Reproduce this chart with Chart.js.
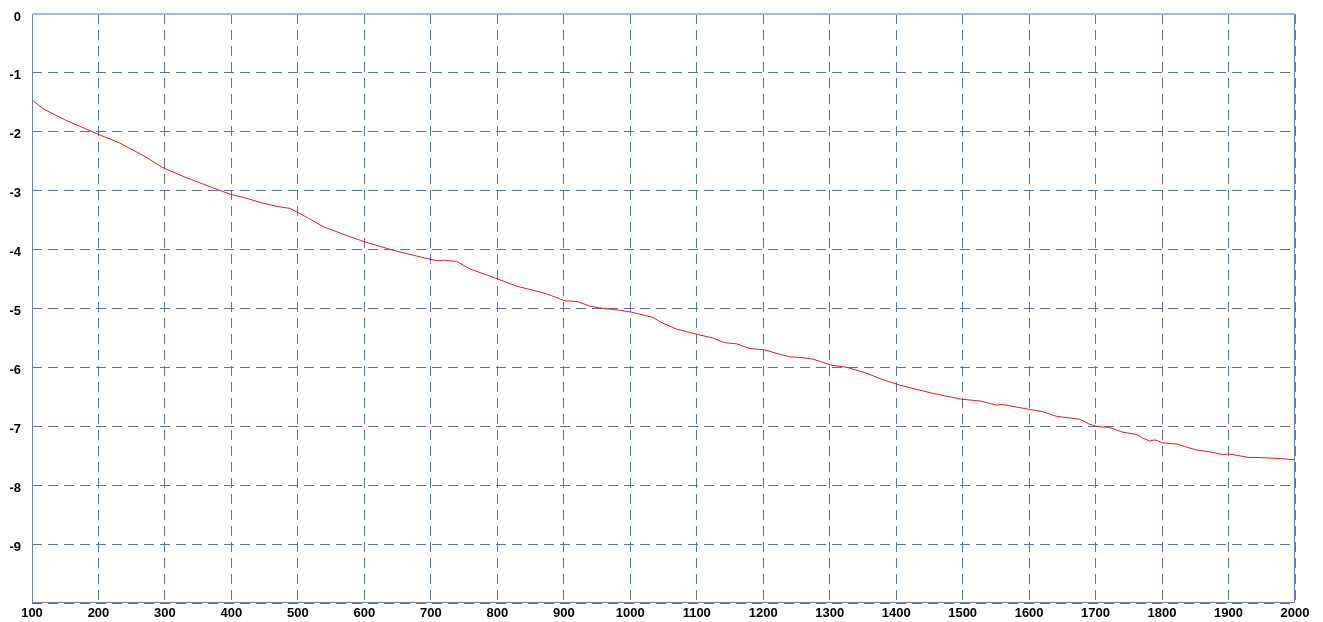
<!DOCTYPE html>
<html>
<head>
<meta charset="utf-8">
<script src="https://cdn.jsdelivr.net/npm/chart.js@4/dist/chart.umd.min.js"></script>
<style>
html,body{margin:0;padding:0;background:#fff;}
#wrap{width:1323px;height:622px;position:relative;}
</style>
</head>
<body>
<div id="wrap"><canvas id="c" width="1323" height="622"></canvas></div>
<script>
const xValues = [100,117,150,197,232,247,270,297,330,372,398,420,447,470,488,498,518,538,578,601,643,679,701,711,718,739,759,801,829,874,902,920,939,954,984,1001,1034,1049,1070,1101,1124,1142,1160,1180,1201,1229,1240,1255,1275,1302,1326,1356,1378,1405,1455,1498,1526,1551,1560,1599,1620,1641,1676,1690,1701,1721,1741,1762,1771,1781,1789,1801,1821,1851,1875,1891,1901,1931,1946,1981,2000];
const yValues = [-1.46,-1.61,-1.8,-2.03,-2.19,-2.28,-2.42,-2.61,-2.77,-2.95,-3.06,-3.12,-3.21,-3.27,-3.3,-3.36,-3.48,-3.61,-3.78,-3.87,-4.01,-4.11,-4.17,-4.19,-4.18,-4.2,-4.33,-4.5,-4.62,-4.75,-4.87,-4.88,-4.96,-4.99,-5.03,-5.06,-5.15,-5.25,-5.35,-5.44,-5.5,-5.58,-5.6,-5.68,-5.7,-5.79,-5.82,-5.83,-5.86,-5.96,-6.0,-6.1,-6.2,-6.3,-6.44,-6.54,-6.57,-6.64,-6.63,-6.71,-6.75,-6.83,-6.88,-6.96,-7.0,-7.02,-7.1,-7.14,-7.2,-7.25,-7.23,-7.28,-7.3,-7.4,-7.44,-7.48,-7.47,-7.53,-7.53,-7.55,-7.57];
const xTickLabels = [100,200,300,400,500,600,700,800,900,1000,1100,1200,1300,1400,1500,1600,1700,1800,1900,2000];
const yTickLabels = [0,-1,-2,-3,-4,-5,-6,-7,-8,-9];

const points = xValues.map((x,i)=>({x:x,y:yValues[i]}));
const gridColor = '#5b6fb6';

const framePlugin = {
  id:'frame',
  afterDatasetsDraw(chart){
    const {ctx, chartArea:a} = chart;
    ctx.save();
    ctx.strokeStyle = '#6b7fbf';
    ctx.lineWidth = 1;
    ctx.setLineDash([]);
    ctx.strokeRect(a.left+0.5, a.top+0.5, a.right-a.left-1, a.bottom-a.top-1);
    ctx.strokeStyle = '#a9b5da';
    ctx.lineWidth = 2;
    ctx.beginPath(); ctx.moveTo(a.left, a.top); ctx.lineTo(a.right, a.top); ctx.stroke();
    ctx.restore();
  }
};

new Chart(document.getElementById('c'), {
  type:'line',
  data:{datasets:[{data:points, borderColor:'#f01818', borderWidth:1, pointRadius:0, tension:0, fill:false}]},
  options:{
    responsive:false, animation:false,
    layout:{padding:{top:14,right:28,left:0,bottom:0}},
    plugins:{legend:{display:false}, tooltip:{enabled:false}},
    scales:{
      x:{type:'linear', min:100, max:2000,
        afterBuildTicks(s){ s.ticks = xTickLabels.map(v=>({value:v})); },
        afterFit(s){ s.height = 19; s.paddingLeft = 0; s.paddingRight = 0; },
        grid:{color:gridColor, lineWidth:1, drawTicks:false},
        border:{display:false, dash:[10,6]},
        ticks:{color:'#000', padding:3, maxRotation:0, autoSkip:false, font:{family:'Liberation Sans, Arial', size:13, weight:'bold'}, callback:v=>String(v)}
      },
      y:{type:'linear', min:-10, max:0,
        afterBuildTicks(s){ s.ticks = [-10].concat(yTickLabels.slice().reverse()).map(v=>({value:v})); },
        afterFit(s){ s.width = 32; s.paddingTop = 0; s.paddingBottom = 0; },
        grid:{color:gridColor, lineWidth:1, drawTicks:false},
        border:{display:false, dash:[10,6]},
        ticks:{color:'#000', padding:11, labelOffset:3, autoSkip:false, font:{family:'Liberation Sans, Arial', size:13, weight:'bold'}, callback:v=> v===-10 ? '' : String(v)}
      }
    }
  },
  plugins:[framePlugin]
});
</script>
</body>
</html>
